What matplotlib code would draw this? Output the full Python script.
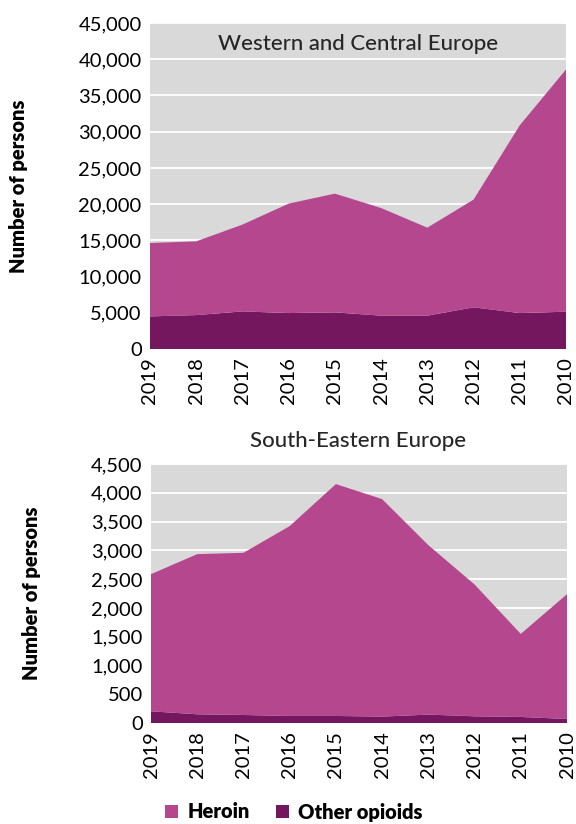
import matplotlib
matplotlib.use("Agg")
import matplotlib.pyplot as plt
from matplotlib.ticker import FuncFormatter, MultipleLocator
from matplotlib.patches import Patch

plt.rcParams['font.family'] = ['Lato', 'DejaVu Sans']

years = ["2019", "2018", "2017", "2016", "2015", "2014", "2013", "2012", "2011", "2010"]

# Western and Central Europe
wce_other = [4500, 4680, 5190, 4960, 5060, 4600, 4600, 5750, 4960, 5150]
wce_total = [14630, 14860, 17170, 20070, 21450, 19460, 16750, 20620, 30880, 38580]
wce_heroin = [t - o for t, o in zip(wce_total, wce_other)]

# South-Eastern Europe
see_other = [203, 151, 139, 122, 122, 111, 146, 116, 105, 70]
see_total = [2586, 2934, 2957, 3421, 4151, 3890, 3090, 2407, 1548, 2238]
see_heroin = [t - o for t, o in zip(see_total, see_other)]

C_HER = "#B5478F"
C_OTH = "#74175E"
BG = "#D9D9D9"
TXT = "#262626"

W, H = 576, 824
fig = plt.figure(figsize=(W / 100, H / 100), dpi=100)

def make_ax(l, r, t, b):
    return fig.add_axes([l / W, 1 - b / H, (r - l) / W, (b - t) / H])

ax1 = make_ax(150, 566, 23, 349)
ax2 = make_ax(151, 567, 464, 723)

fmt = FuncFormatter(lambda v, p: f"{int(v):,}")

def style(ax, other, heroin, ymax, step):
    x = list(range(len(years)))
    ax.set_facecolor(BG)
    ax.stackplot(x, other, heroin, colors=[C_OTH, C_HER], linewidth=0, zorder=2)
    ax.set_xlim(0, len(years) - 1)
    ax.set_ylim(0, ymax)
    ax.yaxis.set_major_locator(MultipleLocator(step))
    ax.yaxis.set_major_formatter(fmt)
    ax.grid(axis='y', color='white', linewidth=1.3, zorder=1)
    ax.set_axisbelow(True)
    ax.set_xticks(x)
    ax.set_xticklabels(years, rotation=90)
    for s in ax.spines.values():
        s.set_visible(False)
    ax.tick_params(length=0, labelsize=14.5, colors='black', pad=6)
    ax.set_ylabel("Number of persons", fontsize=14.5, fontweight='heavy', labelpad=36)

style(ax1, wce_other, wce_heroin, 45000, 5000)
style(ax2, see_other, see_heroin, 4500, 500)

ax1.text(0.5, 0.935, "Western and Central Europe", transform=ax1.transAxes,
         ha='center', va='center', fontsize=16, fontweight='medium', color=TXT, zorder=5)
fig.text(358 / W, 1 - 441 / H, "South-Eastern Europe", ha='center', va='center',
         fontsize=16, fontweight='medium', color=TXT)

handles = [Patch(facecolor=C_HER, label="Heroin"), Patch(facecolor=C_OTH, label="Other opioids")]
fig.legend(handles=handles, loc='center', bbox_to_anchor=(294 / W, 1 - 812 / H), ncol=2,
           frameon=False, prop={'size': 14.5, 'weight': 'heavy'}, handlelength=0.65,
           handleheight=0.65, handletextpad=0.45, columnspacing=1.3)

fig.savefig("out.png", dpi=100, facecolor='white')
